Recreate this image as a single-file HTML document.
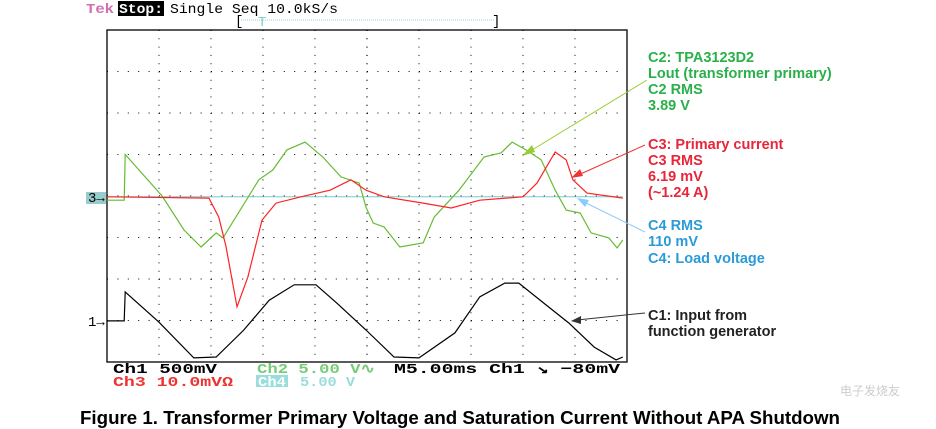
<!DOCTYPE html>
<html><head><meta charset="utf-8"><style>
body{margin:0;background:#fff;width:936px;height:429px;overflow:hidden;font-family:"Liberation Sans",sans-serif}
svg{display:block}
.m{font-family:"Liberation Mono",monospace;font-size:14px}
.a{font-family:"Liberation Sans",sans-serif;font-size:14.5px;font-weight:bold}
</style></head><body>
<svg width="936" height="429">
<g id="grid"></g>
<g id="traces"></g>
<g>
<text x="86" y="13" class="m" fill="#d070b0" font-weight="bold" textLength="28" lengthAdjust="spacingAndGlyphs">Tek</text>
<rect x="118" y="1" width="46" height="15" fill="#000"/>
<text x="119" y="13" class="m" fill="#fff" font-weight="bold" textLength="44" lengthAdjust="spacingAndGlyphs">Stop:</text>
<text x="170" y="13" class="m" fill="#000" font-size="15" textLength="168" lengthAdjust="spacingAndGlyphs">Single Seq  10.0kS/s</text>
<text x="235" y="25" class="m" fill="#000" font-size="12">[</text>
<line x1="241" y1="20" x2="494" y2="20" stroke="#8dd" stroke-dasharray="1,1"/>
<text x="258" y="26" class="m" fill="#8cc" font-size="12">T</text>
<text x="492" y="25" class="m" fill="#000" font-size="12">]</text>
</g>
<g font-weight="bold">
<text x="113" y="373" class="m" font-size="15" fill="#000" textLength="104" lengthAdjust="spacingAndGlyphs">Ch1   500mV</text>
<text x="257" y="373" class="m" font-size="15" fill="#7c7" textLength="118" lengthAdjust="spacingAndGlyphs">Ch2   5.00 V∿</text>
<text x="394" y="373" class="m" font-size="15" fill="#000" textLength="226" lengthAdjust="spacingAndGlyphs">M5.00ms  Ch1 ↘  −80mV</text>
<text x="113" y="386" class="m" font-size="15" fill="#e33" textLength="120" lengthAdjust="spacingAndGlyphs">Ch3  10.0mVΩ</text>
<rect x="256" y="375" width="32" height="12" fill="#9dd"/>
<text x="258" y="386" class="m" font-size="15" fill="#fff" textLength="28" lengthAdjust="spacingAndGlyphs">Ch4</text>
<text x="300" y="386" class="m" font-size="15" fill="#9dd" textLength="55" lengthAdjust="spacingAndGlyphs">5.00 V</text>
</g>
<g>
<rect x="86" y="192" width="20" height="12" fill="#9cc"/>
<text x="88" y="202" class="m" fill="#000" font-size="11">3→</text>
<text x="88" y="326" class="m" fill="#000" font-size="12">1→</text>
</g>
<g>
<g fill="#2ab04a">
<text x="648" y="62" class="a">C2: TPA3123D2</text><text x="648" y="78" class="a">Lout (transformer primary)</text><text x="648" y="94" class="a">C2 RMS</text><text x="648" y="110" class="a">3.89 V</text></g>
<g fill="#e8253a">
<text x="648" y="149" class="a">C3: Primary current</text><text x="648" y="165" class="a">C3 RMS</text><text x="648" y="181" class="a">6.19 mV</text><text x="648" y="197" class="a">(~1.24 A)</text></g>
<g fill="#2a9ad8">
<text x="648" y="230" class="a">C4 RMS</text><text x="648" y="246" class="a">110 mV</text><text x="648" y="263" class="a">C4: Load voltage</text></g>
<g fill="#222">
<text x="648" y="320" class="a">C1: Input from</text><text x="648" y="336" class="a">function generator</text></g>
<line x1="647" y1="80" x2="527" y2="153" stroke="#9c3" /><polygon points="522,156 532,145 535,152" fill="#9c3"/>
<line x1="645" y1="145" x2="576" y2="176" stroke="#e33"/><polygon points="571,178 580,169 583,176" fill="#e33"/>
<line x1="645" y1="232" x2="582" y2="201" stroke="#8cf"/><polygon points="577,198 589,200 585,207" fill="#8cf"/>
<line x1="645" y1="313" x2="577" y2="320" stroke="#333"/><polygon points="571,321 581,316 581,324" fill="#333"/>
</g>
<text x="80" y="424" font-size="18" font-weight="bold" fill="#000" textLength="760" lengthAdjust="spacingAndGlyphs">Figure 1. Transformer Primary Voltage and Saturation Current Without APA Shutdown</text>
<text x="840" y="395" font-size="12" fill="#ccc">电子发烧友</text>
</svg>
<script>
// data in divisions: time div (0..10), amplitude div (+/-4 from center)
const c2T=[0,0.33,0.35,1.06,1.48,1.81,2.10,2.23,2.92,3.19,3.46,3.81,4.15,4.50,4.85,4.98,5.12,5.33,5.63,6.08,6.29,6.77,7.25,7.58,7.79,8.06,8.35,8.62,8.83,9.10,9.31,9.65,9.81,9.92];
const c2V=[-0.1,-0.1,1.0,0,-0.82,-1.23,-0.89,-1.01,0.39,0.63,1.11,1.30,0.94,0.46,0.31,-0.27,-0.65,-0.75,-1.23,-1.13,-0.51,0.14,0.94,1.04,1.30,1.11,0.87,0.14,-0.34,-0.41,-0.89,-1.01,-1.25,-1.06];
const c3T=[0,1.96,2.15,2.29,2.5,2.71,2.98,3.25,3.73,4.29,4.69,4.98,5.33,6.08,6.62,7.17,8.0,8.27,8.62,8.83,8.96,9.23,9.92];
const c3V=[-0.02,-0.05,-0.51,-1.23,-2.67,-1.95,-0.58,-0.17,-0.02,0.14,0.39,0.14,-0.02,-0.17,-0.29,-0.1,-0.02,0.31,1.06,0.87,0.39,0.07,-0.05];
const c1T=[0,0.33,0.35,1.0,1.67,2.1,2.63,3.12,3.6,4.02,4.42,4.98,5.52,6.0,6.69,7.17,7.65,7.92,8.4,8.88,9.37,9.79,9.92];
const c1V=[-3.01,-3.01,-2.31,-3.04,-3.9,-3.88,-3.23,-2.51,-2.14,-2.14,-2.58,-3.23,-3.88,-3.9,-3.3,-2.43,-2.1,-2.1,-2.58,-3.06,-3.64,-3.95,-3.88];
const c4T=[0,9.92];
const c4V=[-0.02,-0.02];
const L=107,T=30,W=520,H=332;
const sx=d=>L+d*W/10, sy=v=>T+H/2-v*H/8;
const NS='http://www.w3.org/2000/svg';
const g=document.getElementById('grid'), tr=document.getElementById('traces');
function mk(tag,at,parent){const e=document.createElementNS(NS,tag);for(const k in at)e.setAttribute(k,at[k]);parent.appendChild(e);return e;}
const border=mk('rect',{x:L,y:T,width:W,height:H,fill:'none',stroke:'#000','stroke-width':1.3},g);


for(let i=1;i<10;i++){const l=mk('line',{x1:sx(i),y1:T,x2:sx(i),y2:T+H,stroke:'#000','stroke-dasharray':'1,7.3','stroke-width':i==5?1.3:1},g);

}
for(let i=1;i<8;i++){const y=T+i*H/8;const l=mk('line',{x1:L,y1:y,x2:L+W,y2:y,stroke:'#000','stroke-dasharray':'1,9.4','stroke-width':i==4?1.3:1},g);

}
function trace(t,v,col,name,w){const p=t.map((d,i)=>sx(d).toFixed(1)+','+sy(v[i]).toFixed(1)).join(' ');
const e=mk('polyline',{points:p,fill:'none',stroke:col,'stroke-width':w||1.2},tr);

}
trace(c4T,c4V,'#7cc','ch4-trace',1);
trace(c2T,c2V,'#6b3','ch2-trace');
trace(c3T,c3V,'#f22','ch3-trace');
trace(c1T,c1V,'#000','ch1-trace');
</script>
</body></html>
